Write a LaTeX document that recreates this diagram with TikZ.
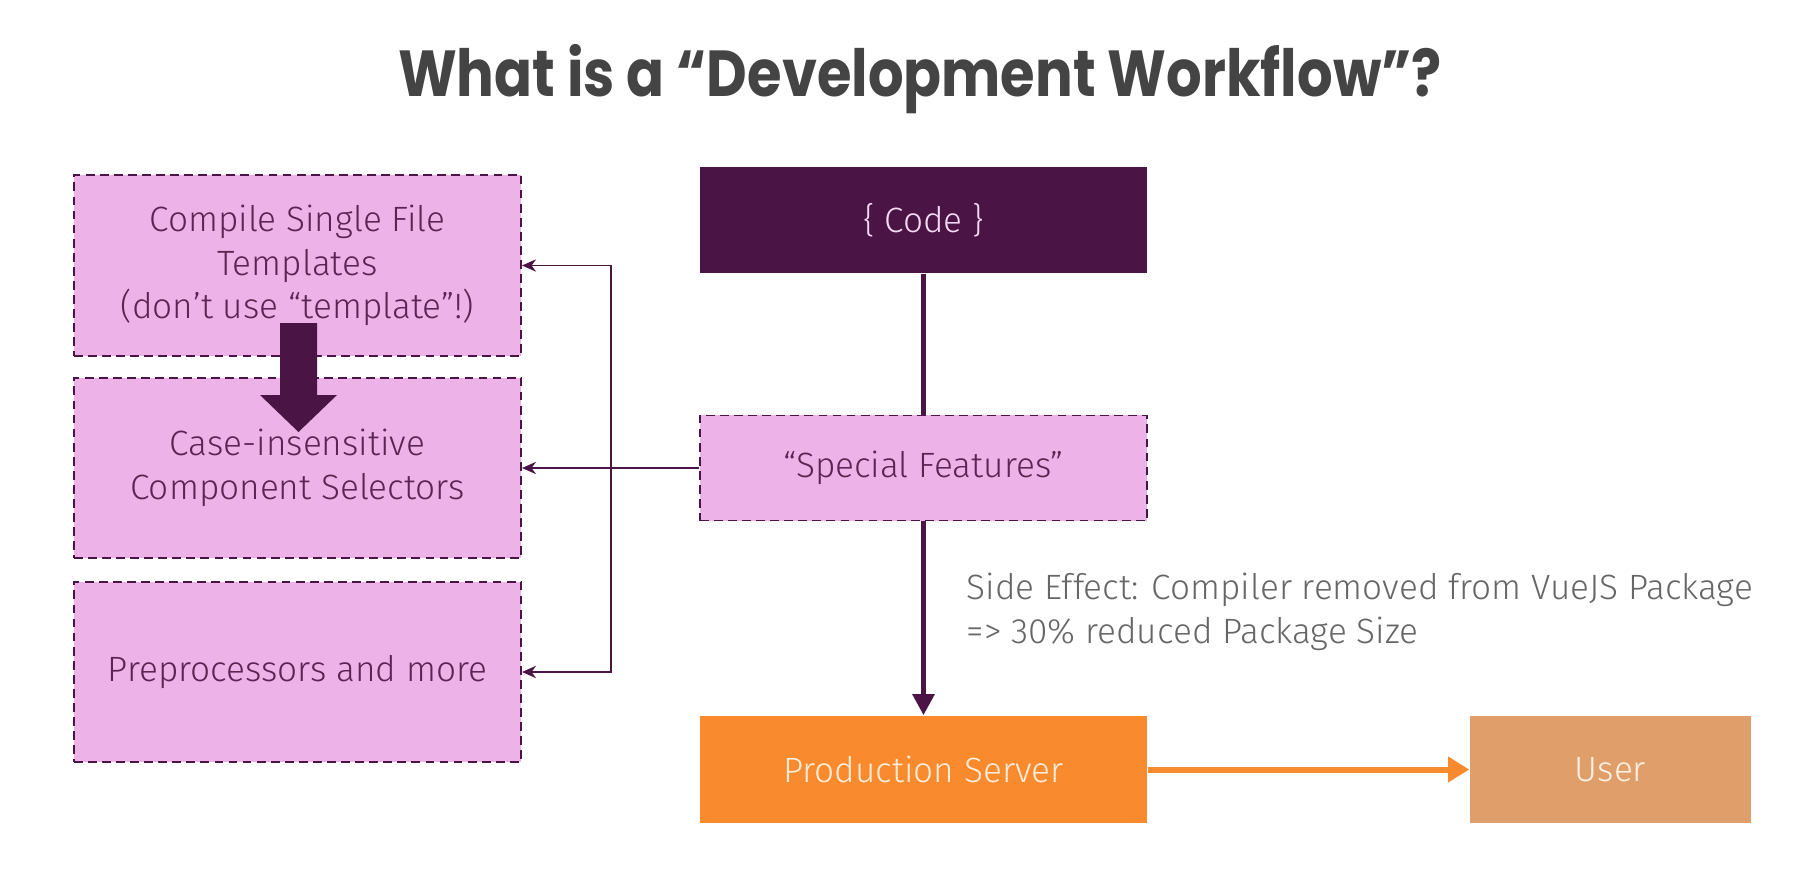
\documentclass[tikz,border=0pt]{standalone}
\usepackage{fontspec}
\setmainfont{Fira Sans}[UprightFont={* Light}]
\newfontfamily\titlefont{Poppins}[UprightFont={* Bold}]
\usetikzlibrary{arrows.meta}

\definecolor{vuedark}{HTML}{4A1444}
\definecolor{vuepink}{HTML}{EDB3E8}
\definecolor{vuetext}{HTML}{5B2453}
\definecolor{vueorange}{HTML}{F98B2E}
\definecolor{vueuser}{HTML}{E09E6A}
\definecolor{titlegray}{HTML}{444444}
\definecolor{notegray}{HTML}{666666}

\tikzset{
  featbox/.style={draw=vuedark,dashed,dash pattern=on 2.5pt off 1.5pt,line width=0.5pt,fill=vuepink,
    text=vuetext,minimum width=4.47cm,align=center,inner sep=0pt,
    font=\fontsize{10}{12.4}\selectfont},
  solidbox/.style={minimum width=4.47cm,minimum height=1.06cm,align=center,inner sep=0pt,
    font=\fontsize{10}{12.4}\selectfont},
  thinarrow/.style={draw=vuedark,line width=0.5pt,-{Stealth[length=4pt,width=3.5pt]}},
  thickline/.style={draw=vuedark,line width=1.6pt}
}

\begin{document}
\begin{tikzpicture}[x=0.01cm,y=-0.01cm]
  \useasboundingbox (0,0) rectangle (1817,884);
  \node[font=\titlefont\fontsize{18.5}{22}\selectfont,text=titlegray,xscale=0.86,transform shape] (title) at (920,79) {What is a “Development Workflow”?};

  % left column
  \node[featbox,minimum height=1.81cm] (compile) at (297.5,265.5) {Compile Single File\\Templates\\(don’t use “template”!)};
  \node[featbox,minimum height=1.80cm] (selectors) at (297.5,468) {Case-insensitive\\Component Selectors};
  \node[featbox,minimum height=1.80cm] (preproc) at (297.5,672) {Preprocessors and more};
  % big down arrow between the first two boxes
  \fill[vuedark] (280,323) -- (317,323) -- (317,395) -- (337,395) -- (298.5,432)
    -- (260,395) -- (280,395) -- cycle;

  % main flow
  \node[solidbox,fill=vuedark,text=vuepink!50!white] (code) at (923.5,220) {\{ Code \}};
  \node[featbox,minimum height=1.05cm] (special) at (923.5,468) {“Special Features”};
  \node[solidbox,fill=vueorange,text=orange!15!white,minimum height=1.07cm] (server) at (923.5,769.5) {Production Server};
  \node[solidbox,fill=vueuser,text=orange!10!white,minimum width=2.81cm,minimum height=1.07cm] (user) at (1610.5,769.5) {User};
  \node[anchor=north west,align=left,text=notegray,inner sep=0pt,
    font=\fontsize{10}{12.6}\selectfont] (note) at (966,572) {Side Effect: Compiler removed from VueJS Package\\=> 30\% reduced Package Size};

  \draw[thickline] (code) -- (special);
  \draw[thickline,-{Triangle[length=6pt,width=6pt]}] (special) -- (server);
  \draw[draw=vueorange,line width=1.7pt,-{Triangle[length=6pt,width=7pt]}] (server) -- (user);

  \coordinate (fork) at (611,468);
  \draw[thinarrow] (special) -- (selectors);
  \draw[thinarrow] (fork) |- (compile);
  \draw[thinarrow] (fork) |- (preproc);
\end{tikzpicture}
\end{document}
